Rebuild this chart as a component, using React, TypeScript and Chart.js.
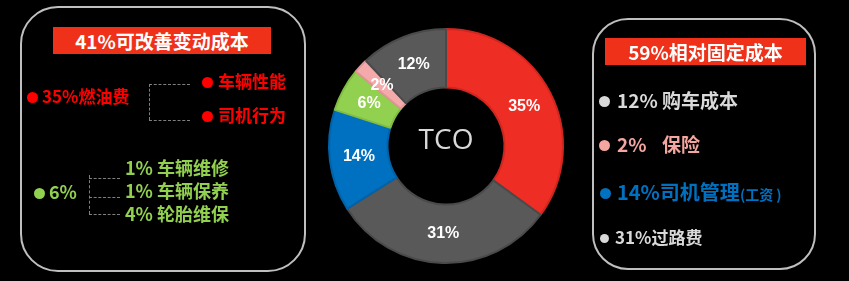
import React, { useEffect, useRef } from 'react';
import { Chart, registerables } from 'chart.js';

Chart.register(...registerables);

// Cost breakdown of total cost of ownership, clockwise from 12 o'clock
const categories = ['燃油费', '过路费', '司机管理', '车辆维保', '保险', '购车成本'];
const shares = [35, 31, 14, 6, 2, 12];
const sliceColors = ['#EE2D24', '#595959', '#0070C0', '#92D050', '#F4AAAA', '#595959'];
const sliceBorders = ['#D02620', '#4A4A4A', '#0062A8', '#80BD40', '#E09595', '#4A4A4A'];
const centerTitle = 'TCO';

const fuelBranches = ['车辆性能', '司机行为'];
const upkeepItems = ['1% 车辆维修', '1% 车辆保养', '4% 轮胎维保'];

const CJK = '"Noto Sans CJK SC", "Noto Sans", sans-serif';

const sliceLabelPlugin = {
  id: 'sliceLabels',
  afterDatasetsDraw(chart: any) {
    const ctx = chart.ctx;
    const meta = chart.getDatasetMeta(0);
    ctx.save();
    ctx.fillStyle = '#FFFFFF';
    ctx.font = 'bold 16px "Liberation Sans", Arial, sans-serif';
    ctx.textAlign = 'center';
    ctx.textBaseline = 'middle';
    meta.data.forEach((arc: any, i: number) => {
      const p = arc.tooltipPosition(false);
      ctx.fillText(`${shares[i]}%`, p.x, p.y);
    });
    const a = chart.chartArea;
    ctx.fillStyle = '#D9D9D9';
    ctx.font = '28px "Open Sans", "Noto Sans", sans-serif';
    ctx.fillText(centerTitle, (a.left + a.right) / 2, (a.top + a.bottom) / 2 - 5);
    ctx.restore();
  },
};

function Txt(props: { x: number; cy: number; size: number; color: string; bold?: boolean; children: any }) {
  const { x, cy, size, color, bold = true, children } = props;
  return (
    <div
      style={{
        position: 'absolute',
        left: x,
        top: cy - size * 0.76,
        fontSize: size,
        lineHeight: `${size * 1.4}px`,
        fontFamily: CJK,
        fontWeight: bold ? 700 : 400,
        color,
        whiteSpace: 'nowrap',
      }}
    >
      {children}
    </div>
  );
}

function Dot(props: { cx: number; cy: number; r: number; color: string }) {
  const { cx, cy, r, color } = props;
  return (
    <div
      style={{
        position: 'absolute',
        left: cx - r,
        top: cy - r,
        width: r * 2,
        height: r * 2,
        borderRadius: '50%',
        background: color,
      }}
    />
  );
}

function Line(props: { x: number; y: number; w: number; h: number }) {
  const { x, y, w, h } = props;
  const horizontal = w > h;
  return (
    <div
      style={{
        position: 'absolute',
        left: x,
        top: y,
        width: horizontal ? w : 0,
        height: horizontal ? 0 : h,
        borderTop: horizontal ? '1px dashed #7F7F7F' : undefined,
        borderLeft: horizontal ? undefined : '1px dashed #7F7F7F',
      }}
    />
  );
}

function TitleBox(props: { x: number; y: number; w: number; h: number; text: string }) {
  const { x, y, w, h, text } = props;
  return (
    <div
      style={{
        position: 'absolute',
        left: x,
        top: y,
        width: w,
        height: h,
        background: '#EE3118',
        color: '#FFFFFF',
        fontFamily: CJK,
        fontWeight: 700,
        fontSize: 19,
        lineHeight: `${h}px`,
        textAlign: 'center',
        whiteSpace: 'nowrap',
      }}
    >
      {text}
    </div>
  );
}

export default function App() {
  const canvasRef = useRef<HTMLCanvasElement | null>(null);

  useEffect(() => {
    if (!canvasRef.current) return;
    const chart = new Chart(canvasRef.current, {
      type: 'doughnut',
      data: {
        labels: categories,
        datasets: [
          {
            data: shares,
            backgroundColor: sliceColors,
            borderColor: sliceBorders,
            borderWidth: 2,
          },
        ],
      },
      options: {
        animation: false,
        responsive: false,
        cutout: '50%',
        layout: { padding: { left: 328, right: 285, top: 28, bottom: 17 } },
        plugins: { legend: { display: false }, tooltip: { enabled: false } },
      },
      plugins: [sliceLabelPlugin],
    });
    return () => chart.destroy();
  }, []);

  return (
    <div
      style={{
        position: 'fixed',
        left: 0,
        top: 0,
        width: 849,
        height: 281,
        background: '#000000',
        overflow: 'hidden',
      }}
    >
      <canvas ref={canvasRef} width={849} height={281} style={{ position: 'absolute', left: 0, top: 0 }} />

      {/* variable costs panel */}
      <div
        style={{
          position: 'absolute',
          left: 20,
          top: 6,
          width: 286,
          height: 266,
          boxSizing: 'border-box',
          border: '2px solid #BFBFBF',
          borderRadius: 38,
        }}
      />
      <TitleBox x={53} y={27} w={218} h={27} text="41%可改善变动成本" />

      <Dot cx={32} cy={97} r={5.5} color="#FF0000" />
      <Txt x={42} cy={97} size={17} color="#FF0000">35%燃油费</Txt>
      <Line x={149} y={84} w={41} h={0} />
      <Line x={149} y={84} w={0} h={36} />
      <Line x={149} y={120} w={41} h={0} />
      <Dot cx={207} cy={82} r={5.5} color="#FF0000" />
      <Txt x={218} cy={82} size={17} color="#FF0000">{fuelBranches[0]}</Txt>
      <Dot cx={207} cy={116} r={5.5} color="#FF0000" />
      <Txt x={218} cy={116} size={17} color="#FF0000">{fuelBranches[1]}</Txt>

      <Dot cx={39} cy={193} r={5.5} color="#92D050" />
      <Txt x={49} cy={193} size={18} color="#92D050">6%</Txt>
      <Line x={89} y={175} w={0} h={39} />
      <Line x={89} y={178} w={31} h={0} />
      <Line x={89} y={197} w={31} h={0} />
      <Line x={89} y={214} w={31} h={0} />
      <Txt x={125} cy={169} size={18} color="#92D050">{upkeepItems[0]}</Txt>
      <Txt x={125} cy={192} size={18} color="#92D050">{upkeepItems[1]}</Txt>
      <Txt x={125} cy={215} size={18} color="#92D050">{upkeepItems[2]}</Txt>

      {/* fixed costs panel */}
      <div
        style={{
          position: 'absolute',
          left: 592,
          top: 18,
          width: 224,
          height: 252,
          boxSizing: 'border-box',
          border: '2px solid #BFBFBF',
          borderRadius: 36,
        }}
      />
      <TitleBox x={605} y={38} w={201} h={27} text="59%相对固定成本" />

      <Dot cx={604} cy={101} r={5.5} color="#D9D9D9" />
      <Txt x={617} cy={101} size={19} color="#D9D9D9">12% 购车成本</Txt>

      <Dot cx={604} cy={145} r={5.5} color="#F4A6A0" />
      <Txt x={617} cy={145} size={19} color="#F4A6A0">2%</Txt>
      <Txt x={662} cy={145} size={19} color="#F4A6A0">保险</Txt>

      <Dot cx={605} cy={193} r={5.5} color="#0070C0" />
      <Txt x={617} cy={193} size={20} color="#0070C0">
        14%司机管理<span style={{ fontSize: 14, fontWeight: 700 }}>(工资 )</span>
      </Txt>

      <Dot cx={604} cy={238} r={4.5} color="#D9D9D9" />
      <Txt x={615} cy={238} size={17} color="#D9D9D9">31%过路费</Txt>
    </div>
  );
}
